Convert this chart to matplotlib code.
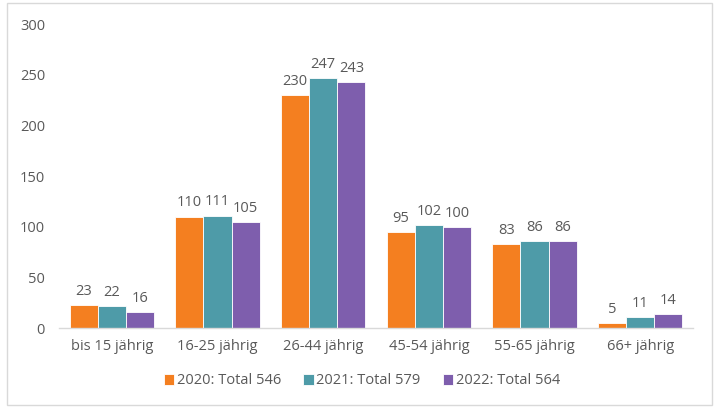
import matplotlib.pyplot as plt
import numpy as np
from matplotlib.patches import Rectangle

categories = ['bis 15 jährig', '16-25 jährig', '26-44 jährig', '45-54 jährig', '55-65 jährig', '66+ jährig']
v2020 = [23, 110, 230, 95, 83, 5]
v2021 = [22, 111, 247, 102, 86, 11]
v2022 = [16, 105, 243, 100, 86, 14]
labels = ['2020: Total 546', '2021: Total 579', '2022: Total 564']
colors = ['#F47F20', '#4E9BA8', '#7E5EAD']

plt.rcParams['font.family'] = ['Open Sans', 'DejaVu Sans']
txt = '#595959'

fig = plt.figure(figsize=(7.14, 4.07), dpi=100)
ax = fig.add_axes([59 / 714, 1 - 328 / 407, (693 - 59) / 714, (328 - 24) / 407])

x = np.arange(len(categories))
w = 0.8 / 3
for i, (vals, lab, c) in enumerate(zip([v2020, v2021, v2022], labels, colors)):
    bars = ax.bar(x + (i - 1) * w, vals, w, color=c, label=lab, edgecolor='white', linewidth=0.6)
    for b, v in zip(bars, vals):
        ax.text(b.get_x() + b.get_width() / 2, v + 6, str(v), ha='center', va='bottom',
                fontsize=10.5, color=txt)

ax.set_xlim(-0.5, len(categories) - 0.5)
ax.set_ylim(0, 300)
ax.set_yticks(range(0, 301, 50))
ax.set_xticks(x)
ax.set_xticklabels(categories)
ax.tick_params(axis='both', length=0, labelsize=10.5, labelcolor=txt)
ax.tick_params(axis='y', pad=10)
ax.tick_params(axis='x', pad=8)
for s in ['top', 'right', 'left']:
    ax.spines[s].set_visible(False)
ax.spines['bottom'].set_color('#D9D9D9')
ax.spines['bottom'].set_linewidth(1)

fig.legend(loc='center', bbox_to_anchor=(362 / 714, 1 - 381 / 407), ncol=3, frameon=False,
           fontsize=10.5, labelcolor=txt, handlelength=0.7, handleheight=0.7,
           handletextpad=0.2, columnspacing=1.5)

fig.patches.append(Rectangle((7 / 714, 2 / 407), 705 / 714, 402 / 407, transform=fig.transFigure,
                             fill=False, edgecolor='#D9D9D9', linewidth=1))

fig.savefig('out.png', dpi=100)
